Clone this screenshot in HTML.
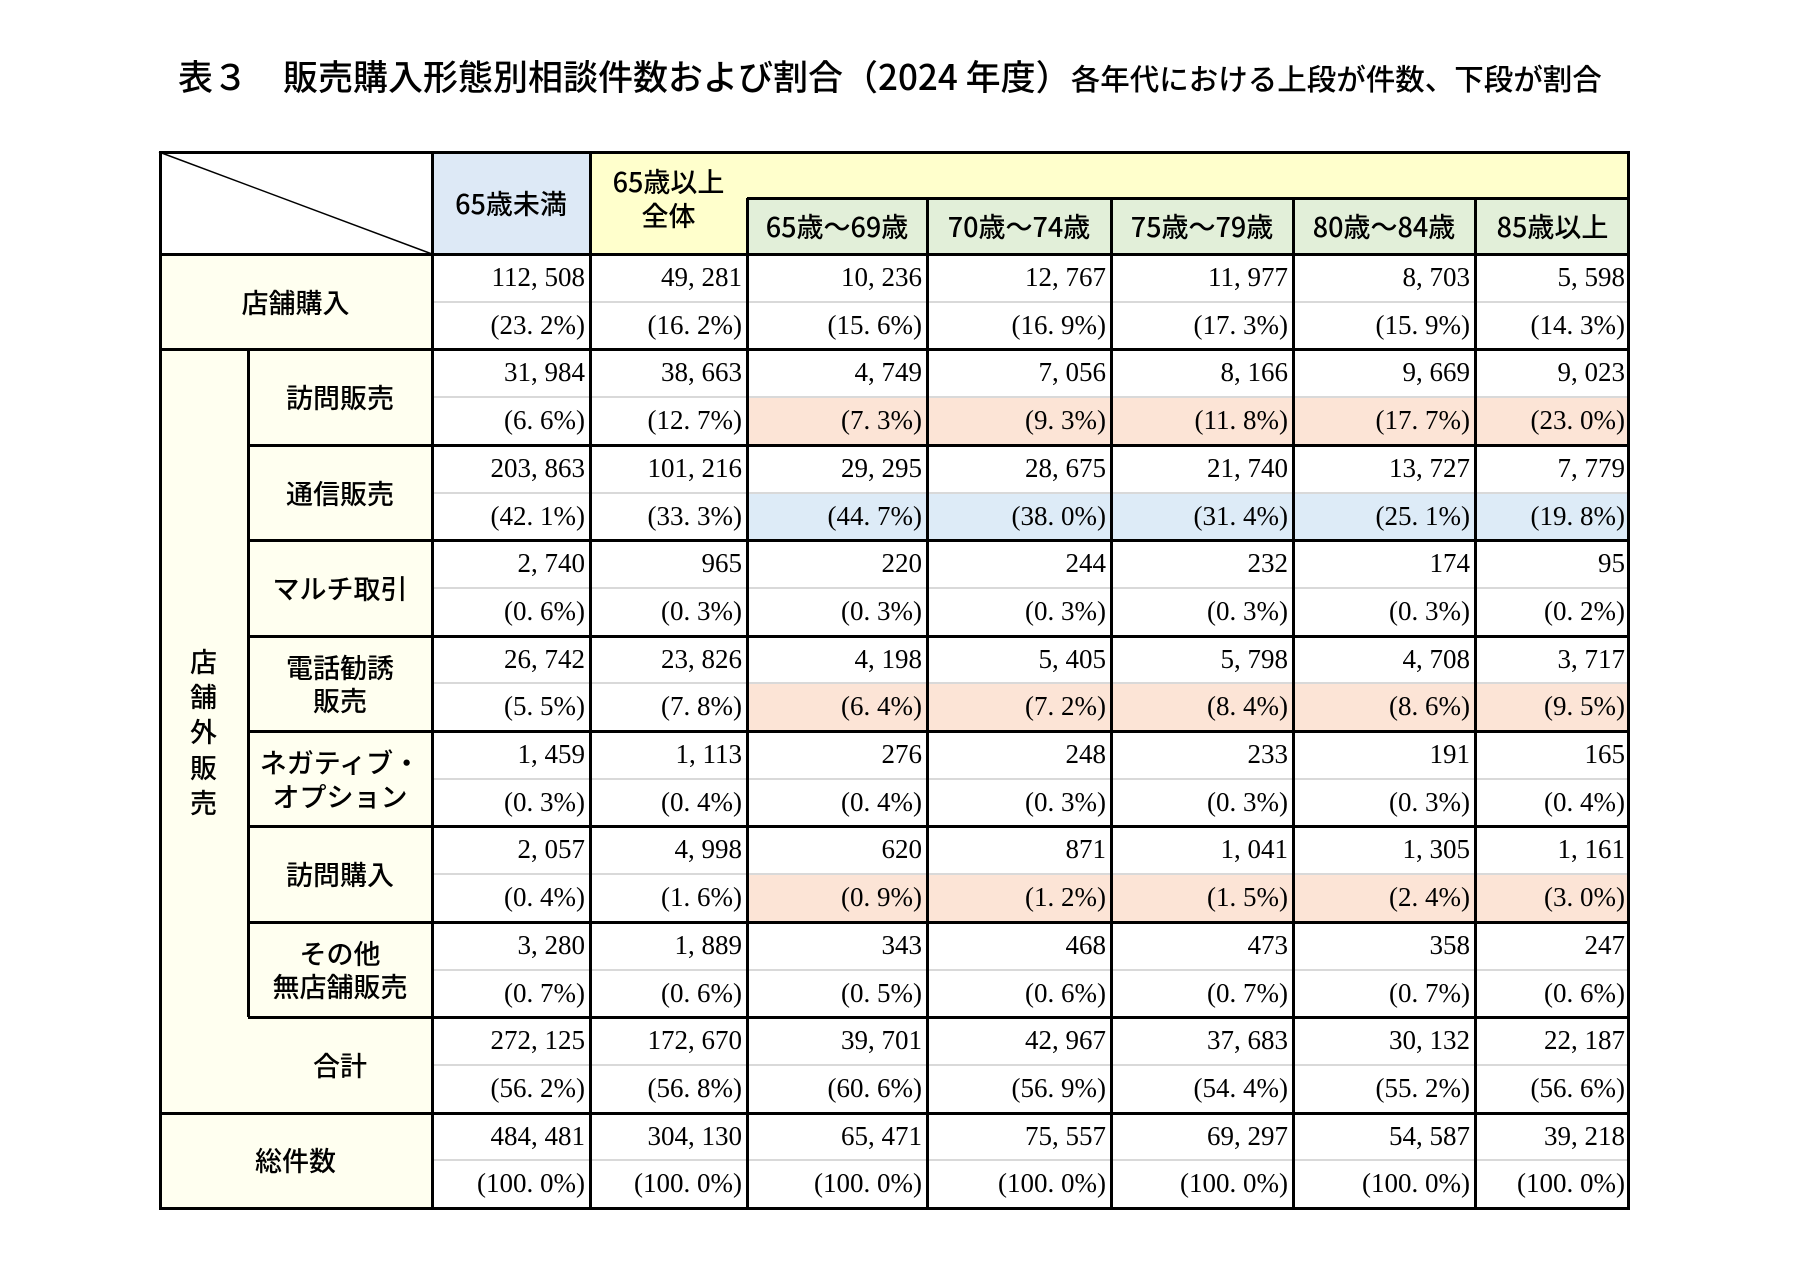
<!DOCTYPE html>
<html><head><meta charset="utf-8">
<style>
body{margin:0;background:#fff;width:1793px;height:1267px;position:relative;overflow:hidden;font-family:"Liberation Sans","Noto Sans CJK JP",sans-serif;}
.c{position:absolute;box-sizing:border-box;}
.t{position:absolute;white-space:nowrap;color:#000;}
.num{font-family:"Liberation Serif","Noto Serif CJK SC",serif;font-size:27px;text-align:right;}
.lab{font-family:"Noto Sans CJK JP",sans-serif;font-size:27px;text-align:center;display:flex;align-items:center;justify-content:center;line-height:1.25;font-weight:500;}
.hl{position:absolute;background:#000;}
</style></head><body>
<div class="t" style="left:178px;top:50px;font-family:'Noto Sans CJK JP',sans-serif;font-size:35px;font-weight:500;">表３　販売購入形態別相談件数および割合（2024 年度）<span style="font-size:29.5px;">各年代における上段が件数、下段が割合</span></div>
<div id="tbl"></div>
<script>
const columns=["65歳未満","65歳以上全体","65歳～69歳","70歳～74歳","75歳～79歳","80歳～84歳","85歳以上"];
const rowLabels=["店舗購入","訪問販売","通信販売","マルチ取引","電話勧誘<br>販売","ネガティブ・<br>オプション","訪問購入","その他<br>無店舗販売","合計","総件数"];
const counts=[
["112, 508","49, 281","10, 236","12, 767","11, 977","8, 703","5, 598"],
["31, 984","38, 663","4, 749","7, 056","8, 166","9, 669","9, 023"],
["203, 863","101, 216","29, 295","28, 675","21, 740","13, 727","7, 779"],
["2, 740","965","220","244","232","174","95"],
["26, 742","23, 826","4, 198","5, 405","5, 798","4, 708","3, 717"],
["1, 459","1, 113","276","248","233","191","165"],
["2, 057","4, 998","620","871","1, 041","1, 305","1, 161"],
["3, 280","1, 889","343","468","473","358","247"],
["272, 125","172, 670","39, 701","42, 967","37, 683","30, 132","22, 187"],
["484, 481","304, 130","65, 471","75, 557","69, 297","54, 587","39, 218"]];
const percents=[
["23. 2%","16. 2%","15. 6%","16. 9%","17. 3%","15. 9%","14. 3%"],
["6. 6%","12. 7%","7. 3%","9. 3%","11. 8%","17. 7%","23. 0%"],
["42. 1%","33. 3%","44. 7%","38. 0%","31. 4%","25. 1%","19. 8%"],
["0. 6%","0. 3%","0. 3%","0. 3%","0. 3%","0. 3%","0. 2%"],
["5. 5%","7. 8%","6. 4%","7. 2%","8. 4%","8. 6%","9. 5%"],
["0. 3%","0. 4%","0. 4%","0. 3%","0. 3%","0. 3%","0. 4%"],
["0. 4%","1. 6%","0. 9%","1. 2%","1. 5%","2. 4%","3. 0%"],
["0. 7%","0. 6%","0. 5%","0. 6%","0. 7%","0. 7%","0. 6%"],
["56. 2%","56. 8%","60. 6%","56. 9%","54. 4%","55. 2%","56. 6%"],
["100. 0%","100. 0%","100. 0%","100. 0%","100. 0%","100. 0%","100. 0%"]];
const highlight=[null,"pink","blue",null,"pink",null,"pink",null,null,null];
const X=[159,432,590,747,927,1111,1293,1475,1630], XS=248;
const Y0=152,YH=198,YB=254,RH=95.4;
const T=document.getElementById('tbl');
function box(x,y,w,h,bg,name){const d=document.createElement('div');d.className='c';
d.style.cssText=`left:${x}px;top:${y}px;width:${w}px;height:${h}px;background:${bg};`;


T.appendChild(d);return d;}
function line(x,y,w,h,col){const d=document.createElement('div');d.className='hl';
d.style.cssText=`left:${x}px;top:${y}px;width:${w}px;height:${h}px;background:${col||'#000'};`;


T.appendChild(d);}
function text(x,y,w,h,html,cls,name){const d=document.createElement('div');d.className='t '+cls;
d.style.cssText=`left:${x}px;top:${y}px;width:${w}px;height:${h}px;`;d.innerHTML=html;


T.appendChild(d);return d;}
box(X[1],Y0,X[2]-X[1],YB-Y0,'#dde9f6','header-under65');
box(X[2],Y0,X[8]-X[2],YH-Y0,'#ffffcc','header-65plus-band');
box(X[2],YH,X[3]-X[2],YB-YH,'#ffffcc','header-65plus-all');
for(let i=3;i<8;i++)box(X[i],YH,X[i+1]-X[i],YB-YH,'#e2efd9','header-age-'+i);
box(X[0],YB,X[1]-X[0],10*RH,'#fffff0','row-label-bg');
const pinkC='#fce4d6',blueC='#ddebf7';
for(let r=0;r<10;r++){if(highlight[r]){for(let c=2;c<7;c++)box(X[c+1],YB+r*RH+RH/2,X[c+2]-X[c+1],RH/2,highlight[r]=='pink'?pinkC:blueC,'highlight-cell');}}
let h=text(X[1],Y0,X[2]-X[1],YB-Y0,columns[0],'lab','header-under65-label');
h=text(X[2],Y0+12,X[3]-X[2],80,'65歳以上<br>全体','lab','header-65plus-label');h.style.alignItems='flex-start';
for(let i=2;i<7;i++)text(X[i+1],YH,X[i+2]-X[i+1],YB-YH,columns[i],'lab','header-'+columns[i]);
const svg=document.createElementNS('http://www.w3.org/2000/svg','svg');
svg.setAttribute('style',`position:absolute;left:0;top:0;`);svg.setAttribute('width',1793);svg.setAttribute('height',1267);


svg.innerHTML=`<line x1="${X[0]}" y1="${Y0}" x2="${X[1]}" y2="${YB}" stroke="#000" stroke-width="1.5"/>`;
T.appendChild(svg);
for(let r=0;r<10;r++){const y=YB+r*RH;
for(let c=0;c<7;c++){
text(X[c+1],y+8,X[c+2]-X[c+1]-5,RH/2,counts[r][c],'num','count-'+r+'-'+c);
text(X[c+1],y+RH/2+8,X[c+2]-X[c+1]-5,RH/2,'('+percents[r][c]+')','num','percent-'+r+'-'+c);
}
line(X[1],y+RH/2-1,X[8]-X[1],2,'#d9d9d9');}
text(X[0],YB,X[1]-X[0],RH,rowLabels[0],'lab','row-label-store');
for(let r=1;r<8;r++)text(XS,YB+r*RH,X[1]-XS,RH,rowLabels[r],'lab','row-label-'+r);
text(XS,YB+8*RH,X[1]-XS,RH,rowLabels[8],'lab','row-label-total');
text(X[0],YB+9*RH,X[1]-X[0],RH,rowLabels[9],'lab','row-label-grand-total');
let v=text(X[0],YB+RH,XS-X[0],8*RH,'店<br>舗<br>外<br>販<br>売','lab','row-label-non-store');v.style.lineHeight='1.3';
const B=3;
line(X[0],Y0-1,X[8]-X[0],B);
line(X[0],Y0,B,YB+10*RH-Y0);line(X[8]-B,Y0,B,YB+10*RH-Y0+1);
line(X[0],YB+10*RH-1,X[8]-X[0],B);
line(X[3],YH-1,X[8]-X[3],B);
for(let i=1;i<8;i++){if(i>=3)line(X[i]-1,YH,B,YB+10*RH-YH);else line(X[i]-1,Y0,B,YB+10*RH-Y0);}
line(X[0],YB-1,X[8]-X[0],B);
for(let r=1;r<10;r++){const y=YB+r*RH-1;
if(r==1||r==9)line(X[0],y,X[8]-X[0],B);else line(XS,y,X[8]-XS,B);}
line(XS-1,YB+RH,B,7*RH);
</script>
</body></html>
